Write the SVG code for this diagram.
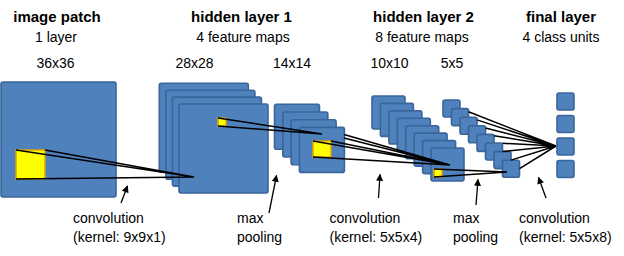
<svg xmlns="http://www.w3.org/2000/svg" width="624" height="256" viewBox="0 0 624 256">
<style>
.m{fill:#4F81BD;stroke:#3A659A;stroke-width:1.6}
.y{fill:#FFFF00;stroke:#E0A400;stroke-width:1.5}
.c{stroke:#000;stroke-width:1.5;fill:none}
.a{stroke:#000;stroke-width:1.3;fill:none;marker-end:url(#ah)}
.t{font-family:"Liberation Sans",Arial,sans-serif;font-size:14px;fill:#000}
.b{font-family:"Liberation Sans",Arial,sans-serif;font-size:15px;font-weight:bold;fill:#000}
</style>
<defs>
<marker id="ah" viewBox="0 0 10 10" refX="9" refY="5" markerWidth="8" markerHeight="7" markerUnits="userSpaceOnUse" orient="auto">
<path d="M0,0 L10,5 L0,10 z" fill="#000"/>
</marker>
</defs>
<rect width="624" height="256" fill="#fff"/>

<g id="titles">
<text class="b" x="57" y="22" text-anchor="middle">image patch</text>
<text class="t" x="56" y="42" text-anchor="middle">1 layer</text>
<text class="t" x="55.5" y="68" text-anchor="middle">36x36</text>
<text class="b" x="241.5" y="22" text-anchor="middle">hidden layer 1</text>
<text class="t" x="243" y="42" text-anchor="middle">4 feature maps</text>
<text class="t" x="194.5" y="68" text-anchor="middle">28x28</text>
<text class="t" x="292" y="68" text-anchor="middle">14x14</text>
<text class="b" x="423.5" y="22" text-anchor="middle">hidden layer 2</text>
<text class="t" x="422" y="42" text-anchor="middle">8 feature maps</text>
<text class="t" x="389.5" y="68" text-anchor="middle">10x10</text>
<text class="t" x="452" y="68" text-anchor="middle">5x5</text>
<text class="b" x="561" y="22" text-anchor="middle">final layer</text>
<text class="t" x="561" y="42" text-anchor="middle">4 class units</text>
</g>

<g id="image-patch">
<rect class="m" x="1" y="82" width="115" height="115" rx="2"/>
<rect class="y" x="16" y="150" width="29" height="29"/>
</g>

<g id="hidden1-conv">
<rect class="m" x="159.3" y="83.3" width="89" height="89" rx="2"/>
<rect class="m" x="165.9" y="90.2" width="89" height="89" rx="2"/>
<rect class="m" x="172.4" y="97.1" width="89" height="89" rx="2"/>
<rect class="m" x="179" y="104" width="89" height="89" rx="2"/>
<rect class="y" x="218" y="118" width="8" height="8"/>
</g>

<g id="hidden1-pool">
<rect class="m" x="274.5" y="104.3" width="45" height="45" rx="2"/>
<rect class="m" x="282.8" y="112" width="45" height="45" rx="2"/>
<rect class="m" x="291.1" y="119.7" width="45" height="45" rx="2"/>
<rect class="m" x="299.4" y="127.4" width="45" height="45" rx="2"/>
<rect class="y" x="313" y="141" width="18" height="16"/>
</g>

<g id="hidden2-conv">
<rect class="m" x="372" y="96" width="33" height="33" rx="2"/>
<rect class="m" x="380.4" y="103.4" width="33" height="33" rx="2"/>
<rect class="m" x="388.9" y="110.9" width="33" height="33" rx="2"/>
<rect class="m" x="397.3" y="118.3" width="33" height="33" rx="2"/>
<rect class="m" x="405.7" y="125.7" width="33" height="33" rx="2"/>
<rect class="m" x="414.1" y="133.1" width="33" height="33" rx="2"/>
<rect class="m" x="422.6" y="140.6" width="33" height="33" rx="2"/>
<rect class="m" x="431" y="148" width="33" height="33" rx="2"/>
<rect class="y" x="434" y="169" width="8" height="8"/>
</g>

<g id="hidden2-pool">
<rect class="m" x="443" y="100" width="17" height="17" rx="2"/>
<rect class="m" x="451.5" y="108.6" width="17" height="17" rx="2"/>
<rect class="m" x="460" y="117.2" width="17" height="17" rx="2"/>
<rect class="m" x="468.5" y="125.8" width="17" height="17" rx="2"/>
<rect class="m" x="477" y="134.4" width="17" height="17" rx="2"/>
<rect class="m" x="485.5" y="143" width="17" height="17" rx="2"/>
<rect class="m" x="494" y="151.6" width="17" height="17" rx="2"/>
<rect class="m" x="502.5" y="160.2" width="17" height="17" rx="2"/>
</g>

<g id="final-layer">
<rect class="m" x="557" y="93" width="17" height="17" rx="2"/>
<rect class="m" x="557" y="115.5" width="17" height="17" rx="2"/>
<rect class="m" x="557" y="138" width="17" height="17" rx="2"/>
<rect class="m" x="557" y="160.5" width="17" height="17" rx="2"/>
</g>

<g id="connectors">
<path class="c" d="M16,150 L194,177 M45,150 L194,177 M16,179 L194,177"/>
<path class="c" d="M218,118 L322,134 M218,126 L322,134"/>
<path class="c" d="M344,134.5 L450,165 M344,138 L450,165 M313,141 L450,165 M331,141 L450,165 M313,157 L450,165"/>
<path class="c" d="M434,169 L507,172 M434,177 L507,172"/>
<path class="c" d="M468.5,111.8 L556,146 M477,119.9 L556,146 M485.5,127.9 L556,146 M494,135.7 L556,146 M502.5,143.3 L556,146 M502.5,151.5 L556,146 M511,160.1 L556,146 M519.5,168.7 L556,146"/>
<path class="a" d="M121,203 L127.5,186"/>
<path class="a" d="M269,213 L276.5,175.5"/>
<path class="a" d="M378.5,198 L380,174.5"/>
<path class="a" d="M476,205 L478,179.5"/>
<path class="a" d="M546,198 L538.5,177.5"/>
</g>

<g id="labels">
<text class="t" x="73" y="223">convolution</text>
<text class="t" x="73" y="241.5">(kernel: 9x9x1)</text>
<text class="t" x="237" y="223">max</text>
<text class="t" x="237" y="241.5">pooling</text>
<text class="t" x="329.5" y="223">convolution</text>
<text class="t" x="329.5" y="241.5">(kernel: 5x5x4)</text>
<text class="t" x="453" y="223">max</text>
<text class="t" x="453" y="241.5">pooling</text>
<text class="t" x="519" y="223">convolution</text>
<text class="t" x="519" y="241.5">(kernel: 5x5x8)</text>
</g>
</svg>
